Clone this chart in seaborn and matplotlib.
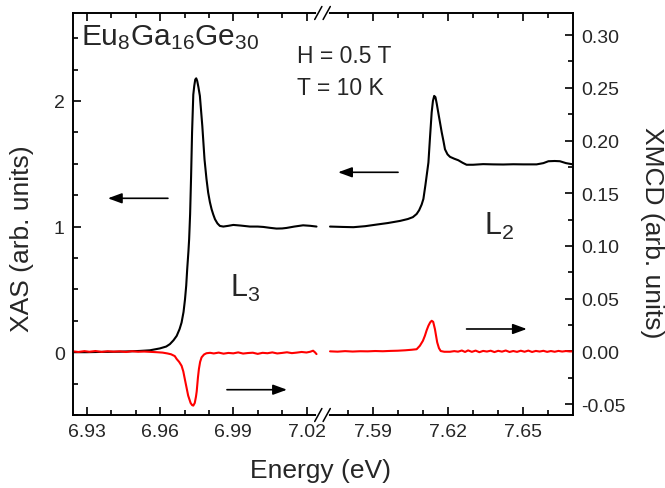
import numpy as np
import seaborn as sns
from matplotlib import pyplot as plt
from matplotlib.ticker import FixedLocator, MultipleLocator, AutoMinorLocator, FormatStrFormatter

# XAS at the L3 edge (left axis)
xas_l3_energy = [6.9243, 6.9300, 6.9353, 6.9400, 6.9435, 6.9480, 6.9517, 6.9558, 6.9599, 6.9625,
                 6.9640, 6.9655, 6.9668, 6.9680, 6.9688, 6.9696, 6.9702, 6.9707, 6.9711, 6.9716,
                 6.9719, 6.9723, 6.9727, 6.9731, 6.9736, 6.9740, 6.9744, 6.9748, 6.9752, 6.9757,
                 6.9763, 6.9768, 6.9773, 6.9782, 6.9790, 6.9797, 6.9804, 6.9811, 6.9818, 6.9825,
                 6.9835, 6.9845, 6.9859, 6.9880, 6.9900, 6.9930, 6.9968, 7.0000, 7.0023, 7.0050,
                 7.0077, 7.0100, 7.0118, 7.0150, 7.0186, 7.0215, 7.0241]
xas_l3 = [0.000, 0.000, 0.002, 0.003, 0.004, 0.007, 0.010, 0.015, 0.030, 0.045,
          0.064, 0.095, 0.130, 0.185, 0.236, 0.320, 0.420, 0.530, 0.660, 0.800,
          0.900, 1.100, 1.400, 1.750, 2.050, 2.120, 2.170, 2.180, 2.160, 2.110,
          2.040, 1.920, 1.800, 1.535, 1.380, 1.270, 1.195, 1.138, 1.095, 1.058,
          1.025, 1.005, 1.000, 1.006, 1.013, 1.008, 1.000, 1.000, 0.997, 0.990,
          0.984, 0.985, 0.989, 1.000, 1.010, 1.006, 1.000]

# XAS at the L2 edge (left axis)
xas_l2_energy = [7.5730, 7.5780, 7.5823, 7.5870, 7.5916, 7.5960, 7.6009, 7.6040, 7.6060, 7.6075,
                 7.6085, 7.6095, 7.6102, 7.6110, 7.6116, 7.6122, 7.6128, 7.6135, 7.6140, 7.6145,
                 7.6150, 7.6155, 7.6161, 7.6168, 7.6175, 7.6182, 7.6188, 7.6198, 7.6208, 7.6225,
                 7.6241, 7.6258, 7.6274, 7.6300, 7.6340, 7.6380, 7.6420, 7.6460, 7.6500, 7.6553,
                 7.6580, 7.6600, 7.6625, 7.6646, 7.6670, 7.6698]
xas_l2 = [1.000, 0.997, 0.995, 1.003, 1.016, 1.028, 1.045, 1.060, 1.075, 1.100,
          1.130, 1.175, 1.220, 1.330, 1.420, 1.510, 1.700, 1.910, 2.000, 2.040,
          2.030, 1.980, 1.910, 1.830, 1.750, 1.680, 1.615, 1.575, 1.555, 1.540,
          1.528, 1.508, 1.492, 1.492, 1.497, 1.495, 1.494, 1.496, 1.495, 1.495,
          1.505, 1.520, 1.522, 1.520, 1.505, 1.495]

# XMCD at the L3 edge (right axis)
xmcd_l3_energy = [6.9243, 6.9265, 6.9290, 6.9310, 6.9335, 6.9360, 6.9385, 6.9410, 6.9435, 6.9460,
                  6.9485, 6.9510, 6.9535, 6.9560, 6.9585, 6.9610, 6.9630, 6.9645, 6.9660, 6.9668,
                  6.9678, 6.9688, 6.9695, 6.9701, 6.9708, 6.9715, 6.9725, 6.9731, 6.9736, 6.9742,
                  6.9747, 6.9750, 6.9755, 6.9759, 6.9764, 6.9770, 6.9780, 6.9790, 6.9805, 6.9820,
                  6.9840, 6.9860, 6.9880, 6.9900, 6.9920, 6.9940, 6.9960, 6.9980, 7.0000, 7.0020,
                  7.0040, 7.0060, 7.0080, 7.0100, 7.0120, 7.0140, 7.0160, 7.0180, 7.0200, 7.0215,
                  7.0227, 7.0235, 7.0241]
xmcd_l3 = [0.0000, -0.0006, 0.0002, -0.0004, 0.0003, -0.0005, 0.0001, -0.0003, 0.0000, -0.0006,
           0.0001, -0.0004, -0.0002, -0.0005, -0.0008, -0.0012, -0.0020, -0.0028, -0.0045, -0.0073,
           -0.0100, -0.0137, -0.0190, -0.0260, -0.0340, -0.0420, -0.0490, -0.0510, -0.0515, -0.0490,
           -0.0430, -0.0380, -0.0250, -0.0168, -0.0100, -0.0057, -0.0030, -0.0018, -0.0014, -0.0020,
           -0.0012, -0.0022, -0.0015, -0.0019, -0.0010, -0.0021, -0.0016, -0.0013, -0.0024, -0.0014,
           -0.0018, -0.0010, -0.0020, -0.0015, -0.0009, -0.0017, -0.0012, -0.0006, -0.0011, -0.0004,
           0.0006, -0.0010, -0.0026]

# XMCD at the L2 edge (right axis)
xmcd_l2_energy = [7.5730, 7.5760, 7.5790, 7.5820, 7.5850, 7.5880, 7.5910, 7.5940, 7.5970, 7.6000,
                  7.6030, 7.6055, 7.6075, 7.6088, 7.6100, 7.6108, 7.6115, 7.6122, 7.6129, 7.6135,
                  7.6141, 7.6148, 7.6153, 7.6157, 7.6164, 7.6171, 7.6185, 7.6208, 7.6225, 7.6240,
                  7.6255, 7.6268, 7.6280, 7.6295, 7.6310, 7.6325, 7.6340, 7.6355, 7.6370, 7.6385,
                  7.6400, 7.6415, 7.6430, 7.6445, 7.6460, 7.6475, 7.6490, 7.6505, 7.6520, 7.6535,
                  7.6550, 7.6565, 7.6580, 7.6595, 7.6610, 7.6625, 7.6640, 7.6655, 7.6670, 7.6685,
                  7.6698]
xmcd_l2 = [0.0000, -0.0003, 0.0002, -0.0002, 0.0001, 0.0000, 0.0003, 0.0001, 0.0004, 0.0006,
           0.0010, 0.0015, 0.0020, 0.0053, 0.0100, 0.0148, 0.0200, 0.0243, 0.0275, 0.0290,
           0.0280, 0.0210, 0.0140, 0.0085, 0.0030, 0.0003, -0.0004, -0.0004, 0.0002, -0.0003,
           0.0008, -0.0006, 0.0009, -0.0005, 0.0007, -0.0008, 0.0004, -0.0002, 0.0006, -0.0007,
           0.0005, -0.0003, 0.0008, -0.0006, 0.0003, -0.0005, 0.0006, -0.0004, 0.0007, -0.0006,
           0.0004, -0.0002, 0.0005, -0.0005, 0.0003, -0.0004, 0.0004, -0.0002, 0.0003, -0.0001,
           0.0000]

major_ticks = [6.93, 6.96, 6.99, 7.02, 7.59, 7.62, 7.65]
minor_ticks = [6.94, 6.95, 6.97, 6.98, 7.00, 7.01, 7.58, 7.60, 7.61, 7.63, 7.64, 7.66]

# broken energy axis: two windows glued together at pixel 250 of 500
X0, X1 = 6.9243, 7.5702
XMAX = 7.6698


def fwd(x):
    x = np.asarray(x, dtype=float)
    return np.where(x < 7.3, (x - X0) * 2440, 250 + (x - X1) * 2510)


def inv(p):
    p = np.asarray(p, dtype=float)
    return np.where(p < 250, X0 + p / 2440, X1 + (p - 250) / 2510)


sns.set_theme(style='ticks')
plt.rcParams['font.family'] = ['Liberation Sans', 'DejaVu Sans']
plt.rcParams['mathtext.default'] = 'regular'
plt.rcParams['axes.unicode_minus'] = False
plt.rcParams['axes.linewidth'] = 1.2

fig = plt.figure(figsize=(6.65, 4.89), dpi=100)
ax = fig.add_axes([0.10977, 0.14928, 0.75188, 0.82209])
ax.set_xscale('function', functions=(fwd, inv))
ax2 = ax.twinx()

sns.lineplot(x=xas_l3_energy, y=xas_l3, ax=ax, color='black', lw=1.5, estimator=None, sort=False)
sns.lineplot(x=xas_l2_energy, y=xas_l2, ax=ax, color='black', lw=1.5, estimator=None, sort=False)
sns.lineplot(x=xmcd_l3_energy, y=xmcd_l3, ax=ax2, color='#ff0000', lw=1.5, estimator=None, sort=False)
sns.lineplot(x=xmcd_l2_energy, y=xmcd_l2, ax=ax2, color='#ff0000', lw=1.5, estimator=None, sort=False)

ax.set_xlim(X0, XMAX)
ax.set_ylim(-0.5, 2.7)
ax2.set_ylim(-0.0604, 0.321)

ax.xaxis.set_major_locator(FixedLocator(major_ticks))
ax.xaxis.set_minor_locator(FixedLocator(minor_ticks))
ax.xaxis.set_major_formatter(FormatStrFormatter('%.2f'))
ax.yaxis.set_major_locator(MultipleLocator(1))
ax.yaxis.set_minor_locator(AutoMinorLocator(4))
ax2.yaxis.set_major_locator(MultipleLocator(0.05))
ax2.yaxis.set_minor_locator(AutoMinorLocator(2))
ax2.yaxis.set_major_formatter(FormatStrFormatter('%.2f'))

for a in (ax, ax2):
    a.tick_params(which='both', direction='in', width=1.2, labelsize=14, pad=6, color='black')
    a.tick_params(which='major', length=6)
    a.tick_params(which='minor', length=3.5)
    for s in a.spines.values():
        s.set_visible(True)
        s.set_color('black')
        s.set_linewidth(1.2)
ax.tick_params(axis='x', which='both', top=True, bottom=True)
ax.tick_params(axis='y', which='both', left=True, right=False)
ax2.tick_params(axis='y', which='both', left=False, right=True)

ax.set_xlabel('Energy (eV)', fontsize=19)
ax.xaxis.set_label_coords(0.495, -0.108)
ax.set_ylabel('XAS (arb. units)', fontsize=19, va='center')
ax.yaxis.set_label_coords(-0.102, 0.4415)
ax2.set_ylabel('XMCD (arb. units)', fontsize=19, rotation=270, va='center')
ax2.yaxis.set_label_coords(1.158, 0.4565)

ax.text(0.016, 0.923, r'$Eu_8Ga_{16}Ge_{30}$', transform=ax.transAxes, fontsize=21.5, va='baseline')
ax.text(0.448, 0.878, 'H = 0.5 T', transform=ax.transAxes, fontsize=16.5, va='baseline')
ax.text(0.448, 0.7985, 'T = 10 K', transform=ax.transAxes, fontsize=16.5, va='baseline')
ax.text(0.314, 0.296, r'$L_3$', transform=ax.transAxes, fontsize=22, va='baseline')
ax.text(0.822, 0.450, r'$L_2$', transform=ax.transAxes, fontsize=22, va='baseline')

arrow = dict(arrowstyle='-|>,head_length=0.6,head_width=0.22', color='black', lw=1.2,
             mutation_scale=14, shrinkA=0, shrinkB=0)
ax.annotate('', xy=(6.9386, 1.225), xytext=(6.9632, 1.225), arrowprops=arrow)
ax.annotate('', xy=(7.5762, 1.432), xytext=(7.6001, 1.432), arrowprops=arrow)
ax2.annotate('', xy=(7.0120, -0.0364), xytext=(6.9874, -0.0364), arrowprops=arrow)
ax2.annotate('', xy=(7.6514, 0.0212), xytext=(7.6274, 0.0212), arrowprops=arrow)

# break marks on top and bottom spines
xb = 0.499
gap, dx, dy = 4.2 / 500, 3.6 / 500, 6.5 / 402
for yb in (0.0, 1.0):
    ax2.plot([xb - gap, xb + gap], [yb, yb], color='white', lw=3, transform=ax2.transAxes,
             clip_on=False, zorder=5)
    for c in (xb - gap, xb + gap):
        ax2.plot([c - dx, c + dx], [yb - dy, yb + dy], color='black', lw=1.1,
                 transform=ax2.transAxes, clip_on=False, zorder=6)

fig.savefig('out.png', dpi=100)
